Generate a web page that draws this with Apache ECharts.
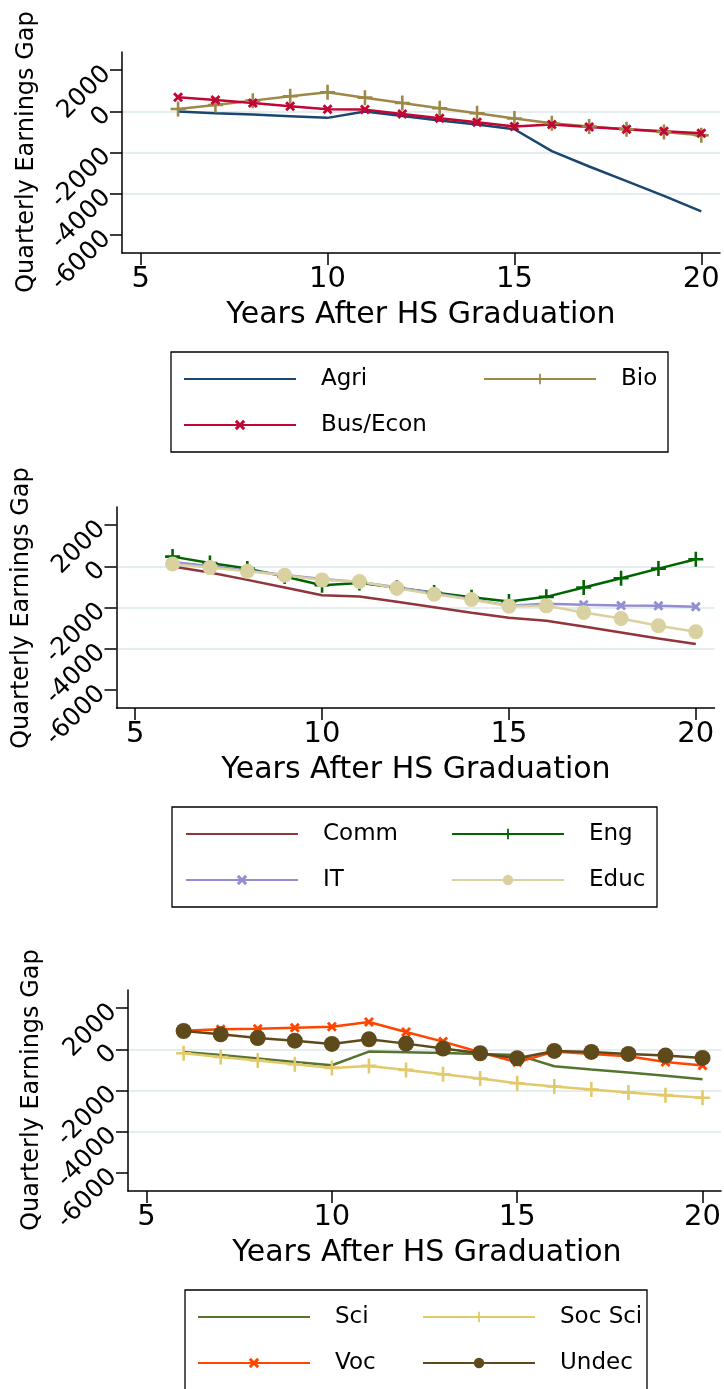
<!DOCTYPE html>
<html>
<head>
<meta charset="utf-8">
<script src="https://cdn.jsdelivr.net/npm/echarts@6/dist/echarts.min.js"></script>
<style>
  html, body { margin: 0; padding: 0; background: #ffffff; }
  #chart { width: 724px; height: 1389px; }
</style>
</head>
<body>
<div id="chart"></div>
<script>
// Years after high-school graduation (x values shared by every series)
const years = [6, 7, 8, 9, 10, 11, 12, 13, 14, 15, 16, 17, 18, 19, 20];
const xTickValues = [5, 10, 15, 20];
const yTickValues = [2000, 0, -2000, -4000, -6000];

// Panel 1
const agri    = [-16, -100, -160, -240, -320, -16, -225, -450, -645, -870, -1935, -2680, -3390, -4100, -4855];
const bio     = [113, 306, 516, 726, 920, 661, 403, 145, -97, -355, -580, -742, -871, -1000, -1161];
const busEcon = [677, 548, 403, 242, 97, 80, -129, -339, -532, -742, -645, -758, -871, -968, -1065];

// Panel 2
const comm = [-16, -306, -661, -1032, -1403, -1468, -1726, -1984, -2258, -2500, -2645, -2920, -3210, -3500, -3774];
const eng  = [468, 161, -113, -500, -919, -806, -1048, -1274, -1500, -1710, -1484, -1032, -581, -113, 339];
const it   = [210, 0, -210, -419, -613, -758, -1016, -1306, -1597, -1919, -1823, -1871, -1903, -1919, -1968];
const educ = [113, -65, -242, -435, -661, -742, -1065, -1355, -1613, -1935, -1919, -2242, -2532, -2887, -3178];

// Panel 3
const sci    = [-129, -274, -452, -613, -774, -113, -145, -177, -226, -274, -823, -984, -1129, -1290, -1452];
const socSci = [-194, -371, -548, -726, -903, -806, -1000, -1210, -1419, -1645, -1806, -1952, -2097, -2226, -2355];
const voc    = [903, 968, 1000, 1048, 1097, 1323, 839, 371, -145, -629, -113, -226, -339, -613, -790];
const undec  = [887, 726, 548, 419, 258, 484, 274, 32, -194, -435, -81, -129, -226, -306, -419];

const xTitle = 'Years After HS Graduation';
const yTitle = 'Quarterly Earnings Gap';

// Marker shapes
const PLUS  = 'path://M-1.2,-7H1.2V-1.2H7V1.2H1.2V7H-1.2V1.2H-7V-1.2H-1.2Z';
const CROSS = 'path://M-5,-3L-3,-5L0,-2L3,-5L5,-3L2,0L5,3L3,5L0,2L-3,5L-5,3L-2,0Z';

const FONT = 'DejaVu Sans';

const panels = [
  {
    grid: { left: 122, top: 52 },
    series: [
      { name: 'Agri',     values: agri,    color: '#1a476f', symbol: 'none' },
      { name: 'Bio',      values: bio,     color: '#9c8847', symbol: PLUS,  size: 15 },
      { name: 'Bus/Econ', values: busEcon, color: '#c10534', symbol: CROSS, size: 10 }
    ],
    box: [171, 352, 497, 100],
    rowTop: 366,
    cols: [[183, ['Agri', 'Bus/Econ']], [483, ['Bio']]],
    yTitlePos: [27, 152],
    xTitlePos: [421, 315]
  },
  {
    grid: { left: 116.5, top: 507 },
    series: [
      { name: 'Comm', values: comm, color: '#90353b', symbol: 'none' },
      { name: 'Eng',  values: eng,  color: '#006400', symbol: PLUS,  size: 15 },
      { name: 'IT',   values: it,   color: '#938dd2', symbol: CROSS, size: 10 },
      { name: 'Educ', values: educ, color: '#d9d1a0', symbol: 'circle', size: 15 }
    ],
    box: [172, 807, 485, 100],
    rowTop: 821,
    cols: [[185, ['Comm', 'IT']], [451, ['Eng', 'Educ']]],
    yTitlePos: [22, 608],
    xTitlePos: [416, 770]
  },
  {
    grid: { left: 128, top: 990 },
    series: [
      { name: 'Sci',     values: sci,    color: '#55752f', symbol: 'none' },
      { name: 'Soc Sci', values: socSci, color: '#e2c96a', symbol: PLUS,  size: 15 },
      { name: 'Voc',     values: voc,    color: '#ff4500', symbol: CROSS, size: 10 },
      { name: 'Undec',   values: undec,  color: '#5e4a1a', symbol: 'circle', size: 16 }
    ],
    box: [185, 1290, 462, 100],
    rowTop: 1304,
    cols: [[197, ['Sci', 'Voc']], [422, ['Soc Sci', 'Undec']]],
    yTitlePos: [32, 1090],
    xTitlePos: [427, 1253]
  }
];

const GRID_W = 598, GRID_H = 201;

const option = {
  animation: false,
  backgroundColor: '#ffffff',
  textStyle: { fontFamily: FONT, color: '#000' },
  grid: [], xAxis: [], yAxis: [], series: [], legend: [], graphic: []
};

panels.forEach((p, i) => {
  option.grid.push({ left: p.grid.left, top: p.grid.top, width: GRID_W, height: GRID_H, containLabel: false });

  option.xAxis.push({
    type: 'value', gridIndex: i, min: 4.5, max: 20.5,
    axisLine: { show: true, onZero: false, lineStyle: { color: '#000', width: 1.5 } },
    axisTick: { show: true, inside: false, length: 12, customValues: xTickValues, lineStyle: { color: '#000', width: 1.5 } },
    axisLabel: { show: true, customValues: xTickValues, fontSize: 29, color: '#000', margin: 12, fontFamily: FONT },
    splitLine: { show: false }
  });

  option.yAxis.push({
    type: 'value', gridIndex: i, min: -6875, max: 2875,
    axisLine: { show: true, onZero: false, lineStyle: { color: '#000', width: 1.5 } },
    axisTick: { show: true, inside: false, length: 12, customValues: yTickValues, lineStyle: { color: '#000', width: 1.5 } },
    axisLabel: {
      show: true, customValues: yTickValues, rotate: 45, fontSize: 25, color: '#000', margin: 15, fontFamily: FONT,
      formatter: v => String(v)
    },
    splitLine: { show: true, showMinLine: false, showMaxLine: false, lineStyle: { color: '#e4edf0', width: 2 } }
  });

  p.series.forEach(s => {
    option.series.push({
      type: 'line', name: s.name, xAxisIndex: i, yAxisIndex: i,
      data: years.map((y, k) => [y, s.values[k]]),
      symbol: s.symbol, symbolSize: s.size || 0, showAllSymbol: true,
      lineStyle: { color: s.color, width: 2.5 },
      itemStyle: { color: s.color, borderWidth: 0 },
      emphasis: { disabled: true }
    });
  });

  // legend frame
  option.graphic.push({
    type: 'rect', z: 10,
    shape: { x: p.box[0], y: p.box[1], width: p.box[2], height: p.box[3] },
    style: { fill: '#ffffff', stroke: '#000', lineWidth: 1.3 }
  });

  // plain-line series show no marker in the key
  const plain = new Set(p.series.filter(s => s.symbol === 'none').map(s => s.name));
  p.cols.forEach(c => {
    option.legend.push({
      orient: 'vertical', left: c[0], top: p.rowTop, padding: 0, itemGap: 20,
      itemWidth: 112, itemHeight: 13, z: 20,
      data: c[1].map(n => plain.has(n) ? { name: n, itemStyle: { opacity: 0 } } : { name: n }),
      selectedMode: false,
      textStyle: { fontSize: 23, color: '#000', fontFamily: FONT, lineHeight: 26, padding: [0, 0, 0, 20] }
    });
  });

  // axis titles
  option.graphic.push({
    type: 'text', x: p.yTitlePos[0], y: p.yTitlePos[1], rotation: Math.PI / 2, z: 5,
    style: { text: yTitle, fill: '#000', font: '24px "DejaVu Sans"', textAlign: 'center', textVerticalAlign: 'middle', align: 'center', verticalAlign: 'middle' }
  });
  option.graphic.push({
    type: 'text', x: p.xTitlePos[0], y: p.xTitlePos[1], z: 5,
    style: { text: xTitle, fill: '#000', font: '30px "DejaVu Sans"', textAlign: 'center', textVerticalAlign: 'middle', align: 'center', verticalAlign: 'middle' }
  });
});

const chart = echarts.init(document.getElementById('chart'), null, { renderer: 'canvas' });
chart.setOption(option);
</script>
</body>
</html>
